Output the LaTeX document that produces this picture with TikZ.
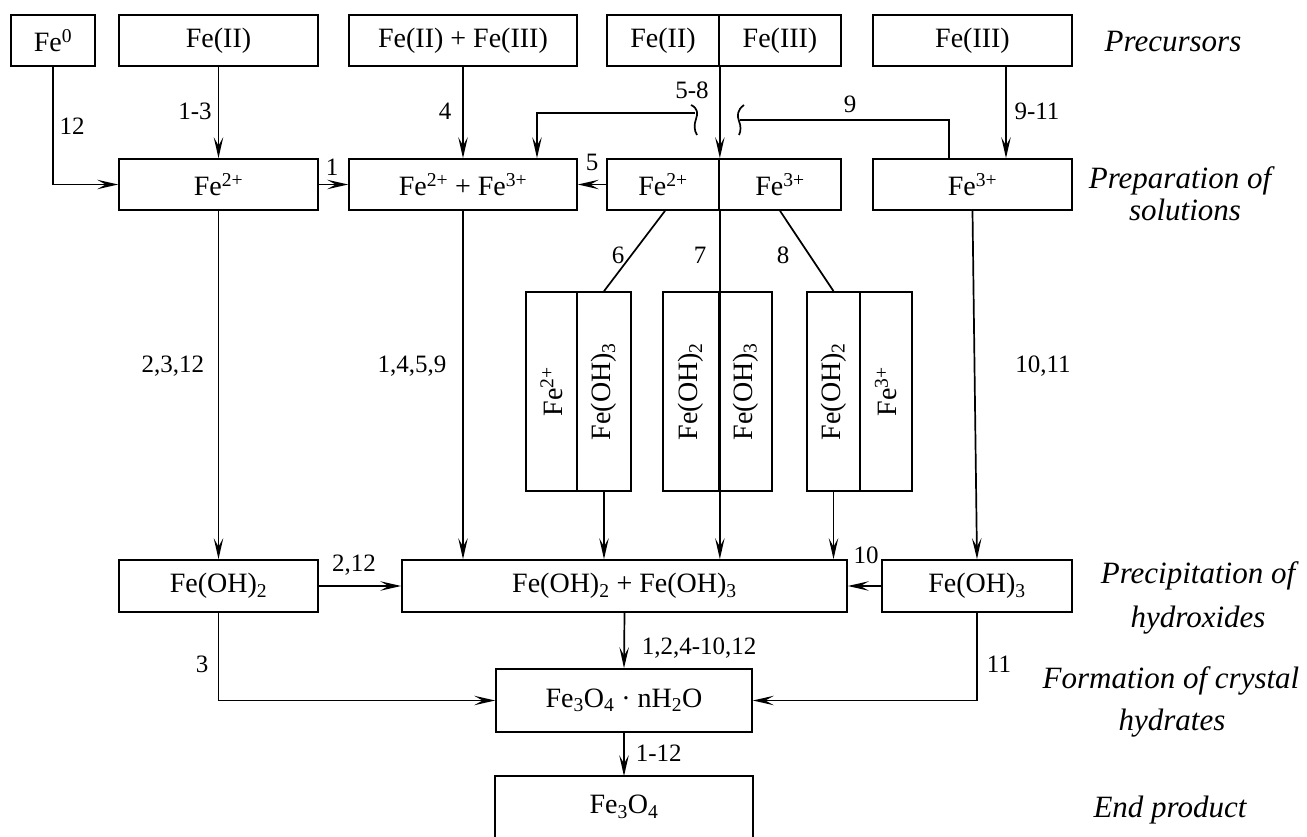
\documentclass[tikz,border=0pt]{standalone}
\usepackage{fontspec}
\setmainfont{Liberation Serif}
\usetikzlibrary{arrows.meta}
\newcommand{\boxfont}{\fontsize{28}{32}\selectfont}
\newcommand{\labfont}{\fontsize{25}{30}\selectfont}
\newcommand{\stagefont}{\fontsize{31}{36}\selectfont\itshape}
\begin{document}
\begin{tikzpicture}[x=1pt,y=-1pt,
  line width=1.7pt,
  box/.style={draw, line width=1.7pt, inner sep=0pt, minimum height=51pt, font=\boxfont},
  arr/.style={-{Stealth[length=21pt,width=9.5pt,inset=8.5pt]}},
  lab/.style={font=\labfont, inner sep=0pt},
  stage/.style={font=\stagefont, inner sep=0pt, anchor=base}]
\useasboundingbox (0,0) rectangle (1307,837);
\fill[white] (0,0) rectangle (1307,837);

% Row 1: precursors
\node[box, minimum width=84pt]  (fe0)   at (53,40.5)   {Fe\textsuperscript{0}};
\node[box, minimum width=199pt] (feII)  at (218.5,40.5) {Fe(II)};
\node[box, minimum width=228pt] (feMix) at (463,40.5)  {Fe(II) + Fe(III)};
\node[box, minimum width=112pt] (s1L)   at (663,40.5)  {Fe(II)};
\node[box, minimum width=122pt] (s1R)   at (780,40.5)  {Fe(III)};
\node[box, minimum width=199pt] (feIII) at (972.5,40.5) {Fe(III)};

% Row 2: solutions
\node[box, minimum width=199pt] (fe2)  at (218.5,184.5) {Fe\textsuperscript{2+}};
\node[box, minimum width=228pt] (fe23) at (463,184.5)   {Fe\textsuperscript{2+} + Fe\textsuperscript{3+}};
\node[box, minimum width=112pt] (s2L)  at (663,184.5)   {Fe\textsuperscript{2+}};
\node[box, minimum width=122pt] (s2R)  at (780,184.5)   {Fe\textsuperscript{3+}};
\node[box, minimum width=199pt] (fe3)  at (972.5,184.5) {Fe\textsuperscript{3+}};

% Vertical boxes
\node[box, minimum width=51pt, minimum height=199pt] (v1L) at (551.5,391.5) {};
\node[box, minimum width=54pt, minimum height=199pt] (v1R) at (604,391.5) {};
\node[box, minimum width=56pt, minimum height=199pt] (v2L) at (691,391.5) {};
\node[box, minimum width=53pt, minimum height=199pt] (v2R) at (745.5,391.5) {};
\node[box, minimum width=53pt, minimum height=199pt] (v3L) at (833.5,391.5) {};
\node[box, minimum width=52pt, minimum height=199pt] (v3R) at (886,391.5) {};
\node[font=\boxfont, rotate=90] (t1L) at (v1L) {Fe\textsuperscript{2+}};
\node[font=\boxfont, rotate=90] (t1R) at (v1R) {Fe(OH)\textsubscript{3}};
\node[font=\boxfont, rotate=90] (t2L) at (v2L) {Fe(OH)\textsubscript{2}};
\node[font=\boxfont, rotate=90] (t2R) at (v2R) {Fe(OH)\textsubscript{3}};
\node[font=\boxfont, rotate=90] (t3L) at (v3L) {Fe(OH)\textsubscript{2}};
\node[font=\boxfont, rotate=90] (t3R) at (v3R) {Fe\textsuperscript{3+}};

% Row 3: hydroxides
\node[box, minimum width=199pt, minimum height=52pt] (foh2) at (218.5,586) {Fe(OH)\textsubscript{2}};
\node[box, minimum width=445pt, minimum height=52pt] (mix)  at (624.5,586) {Fe(OH)\textsubscript{2} + Fe(OH)\textsubscript{3}};
\node[box, minimum width=190pt, minimum height=52pt] (foh3) at (977,586)   {Fe(OH)\textsubscript{3}};

% Row 4: crystal hydrates
\node[box, minimum width=256pt, minimum height=63pt] (hyd) at (624,700.5) {Fe\textsubscript{3}O\textsubscript{4} · nH\textsubscript{2}O};

% Row 5: end product (open at the bottom)
\node[inner sep=0pt, minimum width=256pt, minimum height=60pt, font=\boxfont] (fin) at (624,807) {Fe\textsubscript{3}O\textsubscript{4}};
\draw (fin.south west) |- (fin.north) -| (fin.south east);

% Stage labels
\node[stage] (st1)  at (1173,52)  {Precursors};
\node[stage] (st2a) at (1180,189) {Preparation of};
\node[stage] (st2b) at (1185,221) {solutions};
\node[stage] (st3a) at (1198,583) {Precipitation of};
\node[stage] (st3b) at (1198,627) {hydroxides};
\node[stage] (st4a) at (1171,688) {Formation of crystal};
\node[stage] (st4b) at (1172,730) {hydrates};
\node[stage] (st5)  at (1170,817) {End product};

% Connectors top
\draw[arr] (fe0.south) |- (fe2.west);
\draw[arr] (feII.south) -- (fe2.north);
\draw[arr] (fe2.east) -- (fe23.west);
\draw[arr] (feMix.south) -- (fe23.north);
\draw[arr] (s1L.south east) -- (s2L.north east);
\draw[arr] (s2L.west) -- (fe23.east);
\draw[arr] ([xshift=33.5pt]feIII.south) -- ([xshift=33.5pt]fe3.north);

% line 5-8 with break mark
\coordinate (w58) at (695,113);
\draw[arr] (w58) -| ([xshift=74pt]fe23.north);
\draw (691,105) .. controls (698,108) and (698,114) .. (696,119) .. controls (694,125) and (694,130) .. (697,135);
% line 9 with break mark
\coordinate (w9) at (740,120);
\draw ([xshift=-23.5pt]fe3.north) |- (w9);
\draw (744,105) .. controls (737,110) and (737,116) .. (739,121) .. controls (741,126) and (741,131) .. (739,135);

% to vertical boxes
\draw ([xshift=2pt]s2L.south) -- (v1R.north);
\draw (s2R.south) -- (v3L.north);
\draw[arr] (s2L.south east) -- (mix.north -| s2L.south east);
\draw[arr] (v1R.south) -- (mix.north -| v1R.south);
\draw[arr] (v3L.south) -- (mix.north -| v3L.south);

% long verticals
\draw[arr] (fe2.south) -- (foh2.north);
\draw[arr] (fe23.south) -- (mix.north -| fe23.south);
\draw[arr] (fe3.south) -- (foh3.north);

% row 3 connections
\draw[arr] (foh2.east) -- (mix.west);
\draw[arr] (foh3.west) -- (mix.east);
\draw[arr] (mix.south) -- (hyd.north);
\draw[arr] (foh2.south) |- (hyd.west);
\draw[arr] (foh3.south) |- (hyd.east);
\draw[arr] (hyd.south) -- (fin.north);

% labels
\node[lab] (l12)   at (72,126)  {12};
\node[lab] (l13)   at (195,111) {1-3};
\node[lab] (l1)    at (332,167) {1};
\node[lab] (l4)    at (445,111) {4};
\node[lab] (l58)   at (692,90)  {5-8};
\node[lab] (l9)    at (850,104) {9};
\node[lab] (l5)    at (592,162) {5};
\node[lab] (l911)  at (1037,111) {9-11};
\node[lab] (l6)    at (618,255) {6};
\node[lab] (l7)    at (700,255) {7};
\node[lab] (l8)    at (783,255) {8};
\node[lab, anchor=east] (l2312) at (205,366) {2,3,12};
\node[lab] (l1459) at (412,366) {1,4,5,9};
\node[lab] (l1011) at (1043,366) {10,11};
\node[lab] (l212)  at (354,565) {2,12};
\node[lab] (l10)   at (866,555) {10};
\node[lab, anchor=west] (lbig) at (641,648) {1,2,4-10,12};
\node[lab] (l3)    at (202,664) {3};
\node[lab] (l11)   at (999,664) {11};
\node[lab, anchor=west] (l112) at (635,753) {1-12};
\end{tikzpicture}
\end{document}
